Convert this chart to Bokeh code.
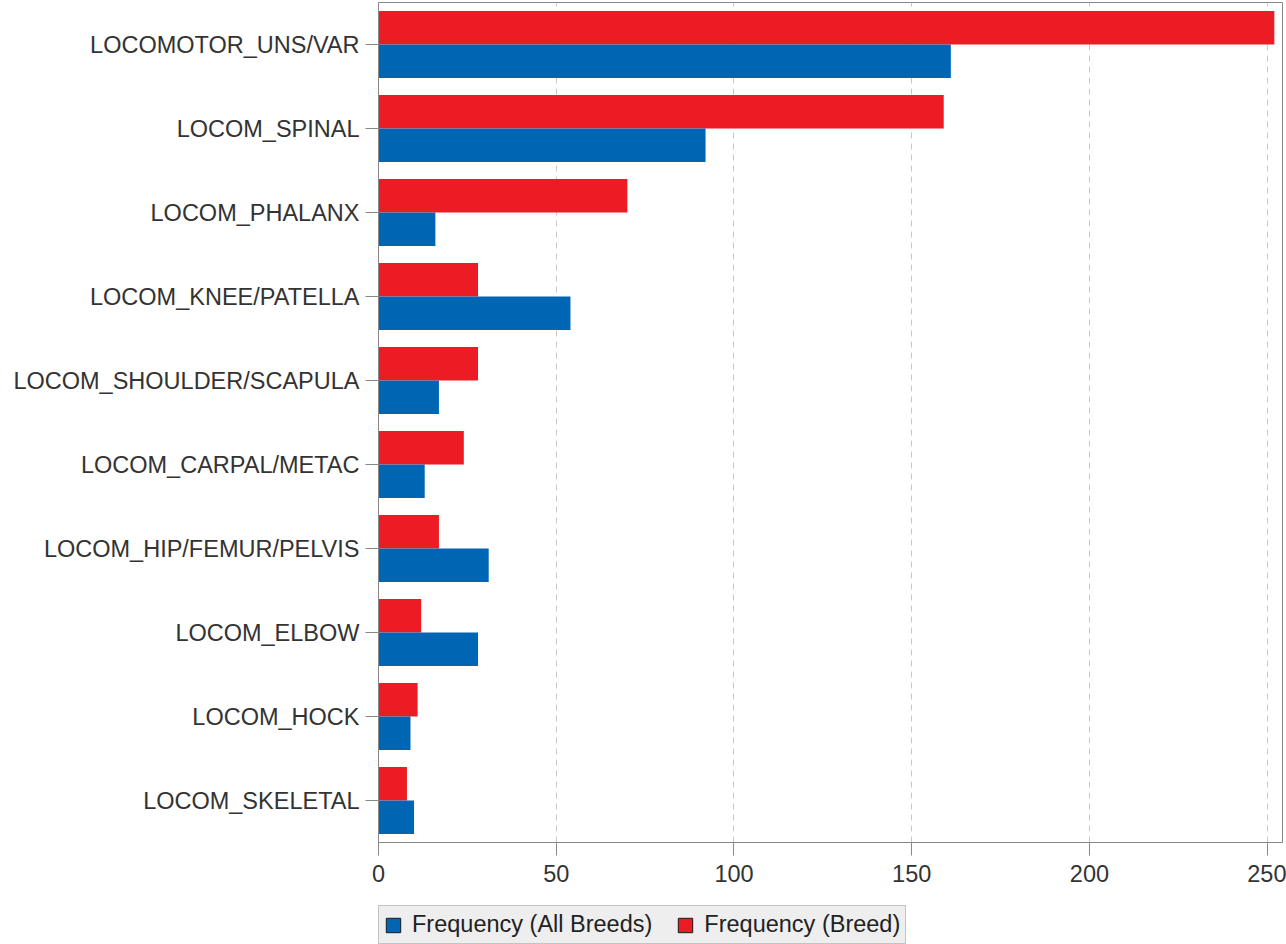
import numpy as np
from bokeh.plotting import figure
from bokeh.layouts import column
from bokeh.models import FactorRange, Range1d, FixedTicker, Legend, LegendItem, ColumnDataSource
from bokeh.transform import dodge
from bokeh.embed import file_html
from bokeh.resources import INLINE

categories = ["LOCOMOTOR_UNS/VAR", "LOCOM_SPINAL", "LOCOM_PHALANX", "LOCOM_KNEE/PATELLA",
              "LOCOM_SHOULDER/SCAPULA", "LOCOM_CARPAL/METAC", "LOCOM_HIP/FEMUR/PELVIS",
              "LOCOM_ELBOW", "LOCOM_HOCK", "LOCOM_SKELETAL"]
freq_all_breeds = [161, 92, 16, 54, 17, 13, 31, 28, 9, 10]
freq_breed = [252, 159, 70, 28, 28, 24, 17, 12, 11, 8]
x_ticks = [0, 50, 100, 150, 200, 250]
series_names = ["Frequency (All Breeds)", "Frequency (Breed)"]

BLUE = "#0066B3"
RED = "#ED1C24"
FONT = "Liberation Sans"
FS = "23.5px"

source = ColumnDataSource(dict(cat=categories, all=freq_all_breeds, breed=freq_breed))

p = figure(
    y_range=FactorRange(factors=list(reversed(categories))),
    x_range=Range1d(0, 254.3),
    width=1286, height=900,
    output_backend="svg", toolbar_location=None,
    min_border_left=378, min_border_right=4, min_border_top=2, min_border_bottom=58,
)

p.hbar(y=dodge("cat", 0.2, range=p.y_range), right="breed", left=0, height=0.4,
       source=source, fill_color=RED, line_color=None)
p.hbar(y=dodge("cat", -0.2, range=p.y_range), right="all", left=0, height=0.4,
       source=source, fill_color=BLUE, line_color=None)

p.xaxis.ticker = FixedTicker(ticks=x_ticks)
p.xgrid.ticker = FixedTicker(ticks=x_ticks)
p.xgrid.grid_line_color = "#c8c8c8"
p.xgrid.grid_line_dash = "6 5"
p.ygrid.visible = False

for ax in (p.xaxis, p.yaxis):
    ax.axis_line_color = "#888888"
    ax.major_tick_line_color = "#888888"
    ax.minor_tick_line_color = None
    ax.major_tick_in = 0
    ax.major_label_text_font = FONT
    ax.major_label_text_font_size = FS
    ax.major_label_text_color = "#333333"

p.xaxis.major_tick_out = 13
p.xaxis.major_label_standoff = 9
p.yaxis.major_tick_out = 13
p.yaxis.major_label_standoff = 6

p.outline_line_color = "#888888"

# legend strip below the chart
lg = figure(
    width=1286, height=44,
    x_range=Range1d(0, 1), y_range=Range1d(0, 1),
    output_backend="svg", toolbar_location=None,
    min_border_left=378, min_border_right=4, min_border_top=5, min_border_bottom=0,
)
lg.axis.visible = False
lg.grid.visible = False
lg.outline_line_color = None

# one NaN row so the legend swatches get their (non-drawn) glyph visuals
swatch = ColumnDataSource(dict(y=np.array([np.nan]), r=np.array([np.nan])))
lg_blue = lg.hbar(y="y", right="r", left=0, height=0.4, source=swatch,
                  fill_color=BLUE, line_color="#1a1a1a", line_width=1)
lg_red = lg.hbar(y="y", right="r", left=0, height=0.4, source=swatch,
                 fill_color=RED, line_color="#1a1a1a", line_width=1)

legend = Legend(
    items=[LegendItem(label=series_names[0], renderers=[lg_blue]),
           LegendItem(label=series_names[1], renderers=[lg_red])],
    orientation="horizontal",
    location="top_left",
    label_text_font=FONT,
    label_text_font_size=FS,
    label_text_color="#222222",
    background_fill_color="#eeeeee",
    background_fill_alpha=1.0,
    border_line_color="#999999",
    glyph_width=18, glyph_height=18,
    label_standoff=10,
    spacing=24,
    padding=5,
    margin=0,
)
lg.add_layout(legend, "center")

layout = column(p, lg, spacing=0)
open("out.html", "w").write(file_html(layout, INLINE))
